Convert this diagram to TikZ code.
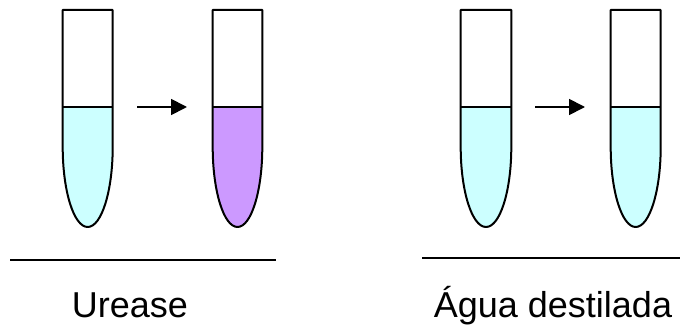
\documentclass[tikz,border=0pt]{standalone}
\usepackage{fontspec}
\setmainfont{Liberation Sans}
\usetikzlibrary{arrows.meta}
\definecolor{liqcyan}{HTML}{CCFFFF}
\definecolor{liqpurple}{HTML}{CC99FF}
\tikzset{
  tubeline/.style={draw=black,line width=2pt,line join=round},
  flowarrow/.style={line width=1.8pt,-{Triangle[length=16pt,width=16pt]}},
  baseline rule/.style={line width=2pt},
  labeltext/.style={anchor=base,font=\fontsize{36}{43}\selectfont,inner sep=0pt}
}
\newcommand{\drawtube}[3]{% left x, right x, liquid colour
  \fill[#3] (#1,220) -- (#1,180) arc[start angle=180,end angle=360,x radius={(#2-#1)/2},y radius=80] -- (#2,220) -- cycle;
  \draw[tubeline] (#1,317) -- (#1,180) arc[start angle=180,end angle=360,x radius={(#2-#1)/2},y radius=80] -- (#2,317) -- cycle;
  \draw[tubeline] (#1,220) -- (#2,220);
}
\begin{document}
\begin{tikzpicture}[x=1pt,y=1pt]
\useasboundingbox (0,0) rectangle (680,327);
\drawtube{62.7}{112.7}{liqcyan}
\drawtube{212.7}{262.3}{liqpurple}
\drawtube{460.7}{511.3}{liqcyan}
\drawtube{610.7}{660.7}{liqcyan}
\coordinate (a1s) at (137,220);
\coordinate (a1e) at (187,220);
\coordinate (a2s) at (535,220);
\coordinate (a2e) at (585,220);
\draw[flowarrow] (a1s) -- (a1e);
\draw[flowarrow] (a2s) -- (a2e);
\coordinate (r1s) at (10,66.7);
\coordinate (r1e) at (276,66.7);
\coordinate (r2s) at (422,68.7);
\coordinate (r2e) at (680,68.7);
\draw[baseline rule] (r1s) -- (r1e);
\draw[baseline rule] (r2s) -- (r2e);
\node[labeltext] (urease) at (130,10) {Urease};
\node[labeltext] (agua) at (553,10) {Água destilada};
\end{tikzpicture}
\end{document}
